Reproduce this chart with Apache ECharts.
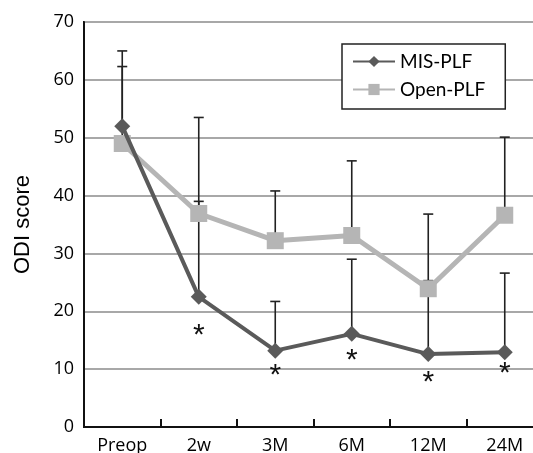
<!DOCTYPE html>
<html>
<head>
<meta charset="utf-8">
<script src="https://cdn.jsdelivr.net/npm/echarts@6/dist/echarts.min.js"></script>
<style>
  html, body { margin: 0; padding: 0; overflow: hidden; background: #fff; }
  #chart { width: 543px; height: 453px; }
</style>
</head>
<body>
<div id="chart"></div>
<script>
// ── data ──────────────────────────────────────
const categories = ['Preop', '2w', '3M', '6M', '12M', '24M']
const misMean = [52, 22.5, 13.2, 16.1, 12.6, 12.9]
const misSD = [13, 16.5, 8.5, 12.9, 12.7, 13.7]
const openMean = [49, 36.9, 32.2, 33.1, 23.9, 36.6]
const openSD = [13.3, 16.6, 8.6, 12.9, 12.9, 13.5]
// significance marks (category, y position in ODI units)
const sigCats = ['2w', '3M', '6M', '12M', '24M']
const sigY = [16.8, 9.9, 12.5, 8.7, 10.2]

const yTicks = { min: 0, max: 70, interval: 10 }

// ── helpers ───────────────────────────────────
const errData = (mean, sd) => mean.map((m, i) => [i, m, m + sd[i]])

function renderErr(params, api) {
  const x = api.value(0)
  const lo = api.coord([x, api.value(1)])
  const hi = api.coord([x, api.value(2)])
  const cap = 5
  const style = { stroke: '#222', lineWidth: 1.6 }
  return {
    type: 'group',
    children: [
      { type: 'line', shape: { x1: lo[0], y1: lo[1], x2: hi[0], y2: hi[1] }, style },
      { type: 'line', shape: { x1: hi[0] - cap, y1: hi[1], x2: hi[0] + cap, y2: hi[1] }, style },
    ],
  }
}

function renderSig(params, api) {
  const p = api.coord([api.value(0), api.value(1)])
  return {
    type: 'text',
    x: p[0],
    y: p[1] + 6,
    style: {
      text: '*',
      font: '30px "Liberation Sans"',
      fill: '#111',
      align: 'center',
      verticalAlign: 'middle',
    },
  }
}

// ── chart ─────────────────────────────────────
const chart = echarts.init(document.getElementById('chart'))

chart.setOption({
  animation: false,
  grid: {
    left: 84, right: 0, top: 22, bottom: 26,
    show: true, borderColor: '#222', borderWidth: 2,
    outerBoundsMode: 'none',
  },
  legend: {
    data: ['MIS-PLF', 'Open-PLF'],
    orient: 'vertical',
    left: 342, top: 44,
    itemWidth: 42, itemHeight: 14, itemGap: 9,
    padding: [8, 20, 10, 10],
    borderColor: '#222', borderWidth: 1.5,
    backgroundColor: '#fff',
    textStyle: { fontFamily: 'Lato', fontSize: 19, color: '#000' },
  },
  xAxis: {
    type: 'category',
    data: categories,
    axisLine: { lineStyle: { color: '#111', width: 2 } },
    axisTick: { show: true, inside: true, length: 8, lineStyle: { color: '#111', width: 2 } },
    axisLabel: { fontFamily: 'Open Sans', fontSize: 18, color: '#000', margin: 10 },
    splitLine: { show: false },
  },
  yAxis: {
    type: 'value',
    ...yTicks,
    name: 'ODI score',
    nameLocation: 'middle',
    nameRotate: 90,
    nameGap: 50,
    nameTextStyle: { fontFamily: 'Liberation Sans', fontSize: 22, color: '#000' },
    axisLine: { show: true, lineStyle: { color: '#111', width: 2 } },
    axisTick: { show: false },
    axisLabel: { fontFamily: 'Open Sans', fontSize: 18, color: '#000', margin: 10 },
    splitLine: { lineStyle: { color: '#a8a8a8', width: 2 } },
  },
  series: [
    {
      type: 'custom', name: 'errOpen', z: 1,
      renderItem: renderErr, data: errData(openMean, openSD),
      silent: true,
    },
    {
      type: 'custom', name: 'errMIS', z: 1,
      renderItem: renderErr, data: errData(misMean, misSD),
      silent: true,
    },
    {
      name: 'Open-PLF', type: 'line', z: 3,
      data: openMean,
      symbol: 'rect', symbolSize: 17,
      itemStyle: { color: '#b5b5b5' },
      lineStyle: { color: '#b5b5b5', width: 5 },
    },
    {
      name: 'MIS-PLF', type: 'line', z: 4,
      data: misMean,
      symbol: 'diamond', symbolSize: 16,
      itemStyle: { color: '#5a5a5a' },
      lineStyle: { color: '#5a5a5a', width: 4 },
    },
    {
      type: 'custom', name: 'sig', z: 5,
      renderItem: renderSig,
      data: sigCats.map((c, i) => [categories.indexOf(c), sigY[i]]),
      silent: true,
    },
  ],
})
</script>
</body>
</html>
